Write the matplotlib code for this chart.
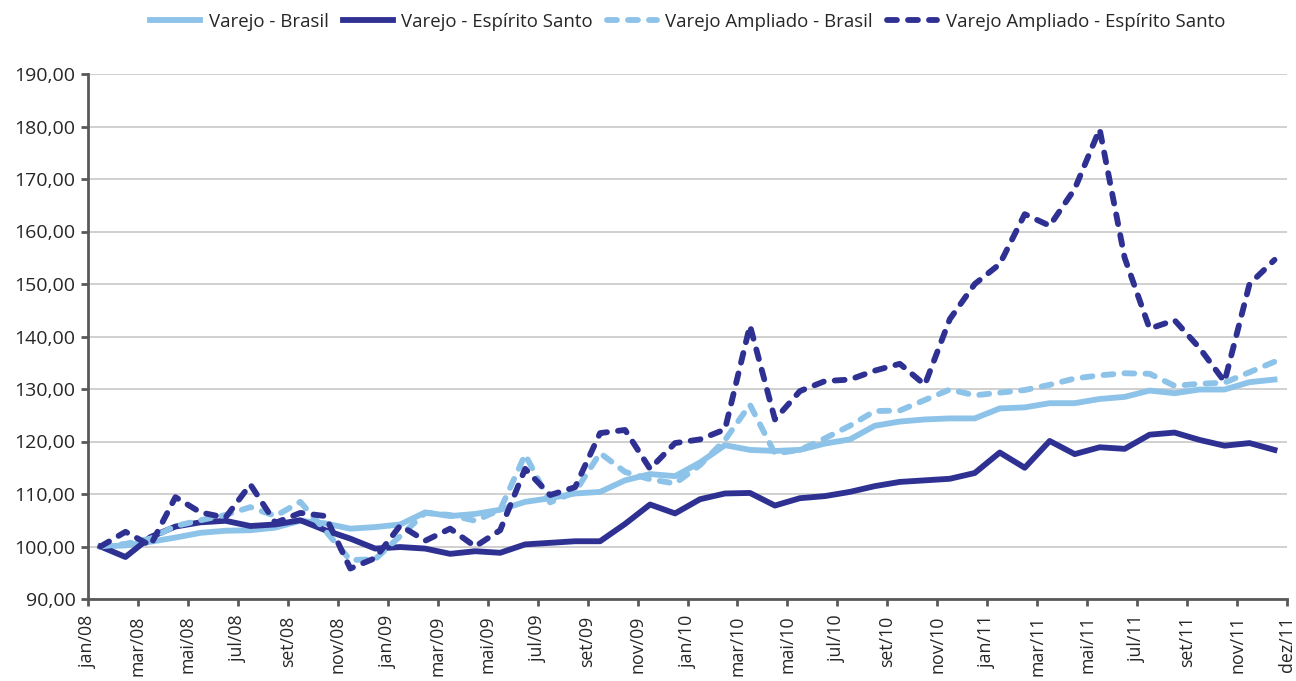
"""Varejo index chart: Brasil vs Espírito Santo, jan/08 - dez/11."""

import matplotlib
matplotlib.use("Agg")
import matplotlib.pyplot as plt
import numpy as np
from matplotlib.ticker import FuncFormatter

# Month labels shown on the x axis (every other month, plus the last one)
tick_labels = [
    "jan/08", "mar/08", "mai/08", "jul/08", "set/08", "nov/08",
    "jan/09", "mar/09", "mai/09", "jul/09", "set/09", "nov/09",
    "jan/10", "mar/10", "mai/10", "jul/10", "set/10", "nov/10",
    "jan/11", "mar/11", "mai/11", "jul/11", "set/11", "nov/11",
    "dez/11",
]

# Monthly index values, jan/08 = 100
varejo_br = [
    100.0, 100.2, 100.9, 101.7, 102.6, 103.0, 103.1, 103.6, 104.9, 104.4,
    103.4, 103.7, 104.2, 106.5, 105.8, 106.2, 107.0, 108.5, 109.2, 110.1,
    110.4, 112.6, 113.8, 113.4, 116.0, 119.3, 118.4, 118.2, 118.4, 119.6,
    120.4, 123.0, 123.8, 124.2, 124.4, 124.4, 126.3, 126.5, 127.3, 127.3,
    128.1, 128.5, 129.7, 129.2, 129.9, 129.9, 131.3, 131.8,
]
varejo_es = [
    100.0, 98.0, 101.8, 103.8, 104.6, 104.9, 103.9, 104.2, 105.0, 103.1,
    101.5, 99.6, 99.9, 99.6, 98.6, 99.1, 98.8, 100.4, 100.7, 101.0,
    101.0, 104.3, 108.0, 106.3, 109.0, 110.1, 110.2, 107.8, 109.2, 109.6,
    110.4, 111.5, 112.3, 112.6, 112.9, 114.0, 117.9, 115.0, 120.1, 117.6,
    118.9, 118.6, 121.3, 121.7, 120.3, 119.2, 119.7, 118.4,
]
ampliado_br = [
    100.0, 100.5, 101.5, 103.9, 105.0, 106.0, 107.5, 105.8, 108.5, 103.0,
    97.4, 97.6, 102.0, 106.4, 106.0, 104.9, 107.0, 117.5, 108.4, 110.4,
    117.8, 114.2, 112.8, 112.0, 115.5, 120.3, 127.0, 117.7, 118.4, 120.6,
    123.0, 125.8, 125.9, 127.9, 129.9, 128.8, 129.3, 129.8, 130.8, 132.0,
    132.6, 133.0, 132.9, 130.6, 131.0, 131.2, 133.2, 135.2,
]
ampliado_es = [
    100.0, 102.8, 100.2, 109.4, 106.5, 105.5, 111.8, 104.5, 106.4, 105.8,
    95.8, 97.8, 104.0, 101.1, 103.4, 100.0, 103.1, 114.8, 109.8, 111.3,
    121.6, 122.2, 114.8, 119.7, 120.4, 122.3, 142.1, 124.2, 129.6, 131.5,
    131.8, 133.5, 134.8, 130.8, 143.3, 150.0, 153.8, 163.3, 161.1, 168.1,
    179.5, 155.0, 141.5, 143.1, 137.8, 131.4, 150.0, 154.6,
]

LIGHT = "#8dc3e9"
DARK = "#2e3192"
AXIS = "#595959"

plt.rcParams["font.family"] = ["Open Sans", "DejaVu Sans"]

fig = plt.figure(figsize=(12.96, 6.81), dpi=100)
ax = fig.add_axes([88 / 1296, 1 - 599 / 681, (1287 - 88) / 1296, (599 - 74) / 681])

x = np.arange(len(varejo_br)) + 0.5
lw = 4.2
dash = (1.7, 1.9)

ax.plot(x, varejo_br, color=LIGHT, lw=lw, solid_joinstyle="round",
        label="Varejo - Brasil")
ax.plot(x, varejo_es, color=DARK, lw=lw, solid_joinstyle="round",
        label="Varejo - Espírito Santo")
ax.plot(x, ampliado_br, color=LIGHT, lw=lw, dashes=dash, dash_capstyle="round",
        dash_joinstyle="round", label="Varejo Ampliado - Brasil")
ax.plot(x, ampliado_es, color=DARK, lw=lw, dashes=dash, dash_capstyle="round",
        dash_joinstyle="round", label="Varejo Ampliado - Espírito Santo")

ax.set_xlim(0, len(varejo_br))
ax.set_ylim(90, 190)
ax.set_yticks(np.arange(90, 191, 10))
ax.yaxis.set_major_formatter(FuncFormatter(lambda v, _: f"{v:.2f}".replace(".", ",")))

xt = list(range(0, 47, 2)) + [48]
ax.set_xticks(xt)
ax.set_xticklabels(tick_labels, rotation=90, va="top", ha="center")

ax.grid(axis="y", color="#d0d0d0", lw=1.4)
ax.set_axisbelow(True)
for side in ("top", "right"):
    ax.spines[side].set_visible(False)
for side in ("left", "bottom"):
    ax.spines[side].set_color(AXIS)
    ax.spines[side].set_linewidth(2.0)

ax.tick_params(axis="both", direction="out", length=5, width=2.0, color=AXIS,
               labelsize=14, labelcolor="#262626")
ax.tick_params(axis="y", pad=4)
# slightly smaller so the longest month labels still fit above the bottom edge
ax.tick_params(axis="x", pad=7, labelsize=12.8)

# legend is centred over the plot area, not the whole figure
ax.legend(loc="center", bbox_to_anchor=(0.5, 1 + 52 / 525), ncol=4,
          frameon=False, fontsize=13.4, handlelength=2.7, handletextpad=0.45,
          columnspacing=0.75, labelcolor="#262626")

fig.savefig("out.png", dpi=100)
